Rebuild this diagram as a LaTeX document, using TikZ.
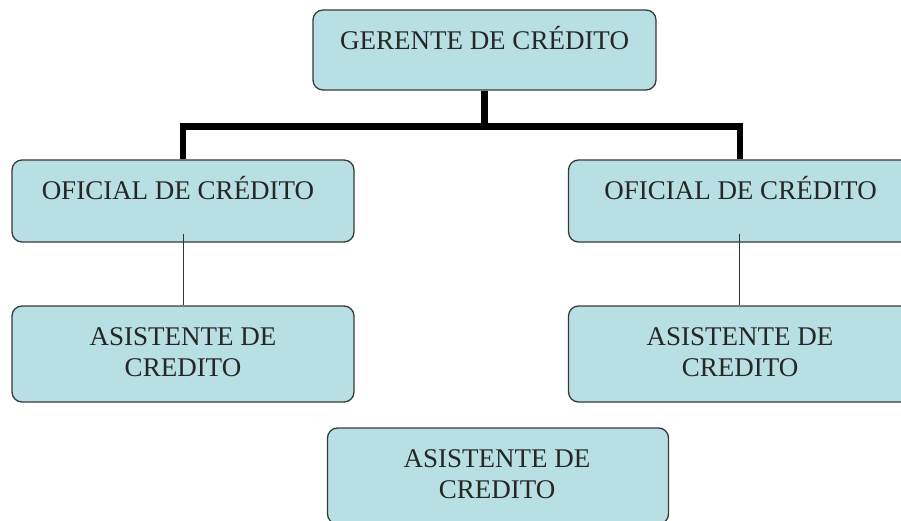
\documentclass[tikz,border=0pt]{standalone}
\usepackage{fontspec}
\setmainfont{Liberation Serif}
\definecolor{boxfill}{HTML}{B8DFE3}
\definecolor{boxline}{HTML}{3A3A3A}
\begin{document}
\begin{tikzpicture}[x=1pt,y=-1pt,
  box/.style={draw=boxline, fill=boxfill, rounded corners=10pt, line width=1.3pt, inner sep=0pt},
  txt/.style={font=\fontsize{27}{30.5}\selectfont, text=black!85, inner sep=0pt, align=center},
  thick/.style={line width=6.5pt, black},
  thin/.style={line width=1pt, black!80}]
\useasboundingbox (0,0) rectangle (901,521);
\clip (0,0) rectangle (901,521);
% boxes
\node[box, minimum width=343pt, minimum height=80pt] (ger) at (484.5,50) {};
\node[box, minimum width=342pt, minimum height=82pt] (of1) at (183,201) {};
\node[box, minimum width=343pt, minimum height=82pt] (of2) at (740,201) {};
\node[box, minimum width=342pt, minimum height=96pt] (as1) at (183,354) {};
\node[box, minimum width=343pt, minimum height=96pt] (as2) at (740,354) {};
\node[box, minimum width=341pt, minimum height=96pt] (as3) at (498,476) {};
% texts
\node[txt, anchor=base] (gert) at (484.5,50) {GERENTE DE CRÉDITO};
\node[txt, anchor=base] (of1t) at (178,200) {OFICIAL DE CRÉDITO};
\node[txt, anchor=base] (of2t) at (740.5,200) {OFICIAL DE CRÉDITO};
\node[txt] (as1t) at (183,352) {ASISTENTE DE\\CREDITO};
\node[txt] (as2t) at (740,352) {ASISTENTE DE\\CREDITO};
\node[txt] (as3t) at (497,474) {ASISTENTE DE\\CREDITO};
% connectors
\coordinate (bar) at (0,126.5);
\draw[thick] (ger.south) -- (ger.south |- bar);
\draw[thick, line cap=rect] (of1.north |- bar) -- (of2.north |- bar);
\draw[thick] (of1.north |- bar) -- (of1.north);
\draw[thick] (of2.north |- bar) -- (of2.north);
\draw[thin] ([yshift=9pt]of1.south) -- (as1.north);
\draw[thin] ([xshift=-1pt,yshift=9pt]of2.south) -- ([xshift=-1pt]as2.north);
\end{tikzpicture}
\end{document}
